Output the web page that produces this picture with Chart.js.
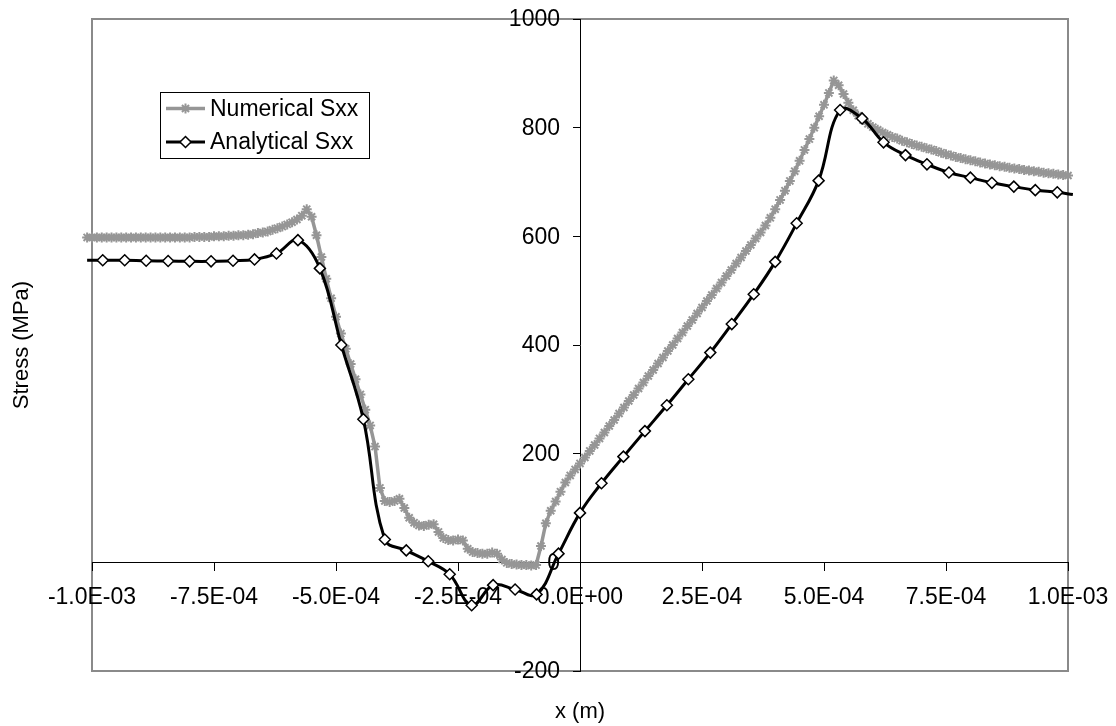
<!DOCTYPE html>
<html>
<head>
<meta charset="utf-8">
<script src="https://cdn.jsdelivr.net/npm/chart.js@4"></script>
<style>
  html, body { margin: 0; padding: 0; background: #fff; }
</style>
</head>
<body>
<canvas id="chart" width="1116" height="726"></canvas>
<script>
// Analytical Sxx: marker points (first/last entries only extend the line past the frame)
const anaX = [
  -1.01e-3, -9.78e-4, -9.33e-4, -8.89e-4, -8.44e-4, -8.0e-4, -7.56e-4, -7.11e-4, -6.67e-4,
  -6.22e-4, -5.78e-4, -5.33e-4, -4.89e-4, -4.44e-4, -4.0e-4, -3.56e-4, -3.11e-4, -2.67e-4,
  -2.22e-4, -1.78e-4, -1.33e-4, -8.9e-5, -4.4e-5, 0, 4.4e-5, 8.9e-5, 1.33e-4, 1.78e-4,
  2.22e-4, 2.67e-4, 3.11e-4, 3.56e-4, 4.0e-4, 4.44e-4, 4.89e-4, 5.33e-4, 5.78e-4, 6.22e-4,
  6.67e-4, 7.11e-4, 7.56e-4, 8.0e-4, 8.44e-4, 8.89e-4, 9.33e-4, 9.78e-4, 1.01e-3,
];
const anaY = [
  556, 556, 556, 555, 554.5, 554, 554, 555, 557.5, 568.5, 593, 541, 400, 263.5, 42, 22, 2,
  -22, -79, -42, -50, -59, 16, 91, 145.5, 194.5, 241.5, 289, 337, 386, 438.5, 493.5, 553,
  624, 702.5, 832.5, 817, 773, 749.5, 732.5, 717.5, 708, 698.5, 691.5, 685, 681, 677,
];

// Numerical Sxx: sampled every 10 micrometres from -1.01E-03 m
const numStart = -1.01e-3;
const numStep = 1e-5;
const numY = [
  598, 598, 598, 598, 598, 598, 598, 598, 598, 598, 598, 598, 598, 598, 598, 598, 598, 598,
  598, 598, 598, 598,
  599, 599, 599, 599, 600, 600, 600, 601, 601, 602, 602, 603, 604, 606, 607, 609, 612, 615,
  618, 622, 626, 631, 638,
  650, 636, 602, 562, 522, 486, 452, 421, 393, 365, 337, 309, 281, 252, 213, 137,
  113, 111, 113, 117, 100, 82, 73, 68, 67, 69, 70, 56, 45, 41, 40, 42, 40, 25, 19, 17,
  16, 16, 18, 16, 5, -1, -3, -4, -5, -5, -6, -5,
  30, 72, 95, 112, 130, 147, 160, 171, 182,
  193, 205, 216, 228, 239, 251, 262, 274, 285, 297, 308, 320, 331, 343, 354, 366, 377, 389,
  400, 412, 423, 435, 446, 458, 469, 481, 492, 504, 515, 527, 538, 550, 561, 573, 584, 596, 607,
  620, 634, 650, 667, 684, 702, 720, 739, 759, 779, 800, 821, 842, 864, 887,
  878, 862, 846, 832, 822, 814, 807, 801, 796, 791, 787, 783, 780, 776, 773, 770, 767, 765,
  762, 760, 757, 754, 751, 749, 746, 744, 742, 740, 738, 736, 734, 732, 731, 729, 728, 726,
  725, 724, 722, 721, 720, 719, 717, 716, 715, 714, 713, 712, 711,
];

const xTitle = 'x (m)';
const yTitle = 'Stress (MPa)';
const FONT = '"Liberation Sans", Arial, sans-serif';

const numData = numY.map((y, i) => ({ x: numStart + i * numStep, y }));
const anaData = anaY.map((y, i) => ({ x: anaX[i], y }));
const lastAna = anaData.length - 1;

// 1.0E-03 style labels
function sci(v) {
  const [m, e] = Number(v).toExponential(1).split('e');
  const n = Math.abs(+e);
  return m.replace('-0.0', '0.0') + 'E' + (+e < 0 ? '-' : '+') + String(n).padStart(2, '0');
}

const plotFrame = {
  id: 'plotFrame',
  beforeDraw(chart) {
    const { ctx, chartArea: a } = chart;
    ctx.save();
    ctx.fillStyle = '#fff';
    ctx.fillRect(0, 0, chart.width, chart.height);
    ctx.strokeStyle = '#8a8a8a';
    ctx.lineWidth = 2;
    ctx.strokeRect(a.left, a.top, a.right - a.left, a.bottom - a.top);
    ctx.restore();
  },
};

// y tick labels sit left of the centred axis, clear of the tick marks
const yLabels = {
  id: 'yLabels',
  beforeDatasetsDraw(chart) {
    const { ctx, scales } = chart;
    const x0 = scales.x.getPixelForValue(0) - 7 - 13;
    ctx.save();
    ctx.fillStyle = '#000';
    ctx.font = '23px ' + FONT;
    ctx.textAlign = 'right';
    ctx.textBaseline = 'middle';
    scales.y.ticks.forEach((t) => {
      ctx.fillText(String(t.value), x0, scales.y.getPixelForValue(t.value) + 1);
    });
    ctx.restore();
  },
};

const axisTitles = {
  id: 'axisTitles',
  afterDraw(chart) {
    const { ctx, chartArea: a } = chart;
    ctx.save();
    ctx.fillStyle = '#000';
    ctx.font = '22px ' + FONT;
    ctx.textAlign = 'center';
    ctx.textBaseline = 'middle';
    ctx.fillText(xTitle, (a.left + a.right) / 2, 712);
    ctx.translate(22, (a.top + a.bottom) / 2);
    ctx.rotate(-Math.PI / 2);
    ctx.fillText(yTitle, 0, 0);
    ctx.restore();
  },
};

const legendBox = {
  id: 'legendBox',
  afterDraw(chart) {
    const { ctx, chartArea: a } = chart;
    const left = a.left + 68, top = a.top + 73, w = 209, h = 66;
    ctx.save();
    ctx.fillStyle = '#fff';
    ctx.fillRect(left, top, w, h);
    ctx.strokeStyle = '#000';
    ctx.lineWidth = 1;
    ctx.strokeRect(left + 0.5, top + 0.5, w, h);
    chart.data.datasets.forEach((ds, i) => {
      const y = top + 16.5 + i * 33.5;
      ctx.strokeStyle = ds.borderColor;
      ctx.lineWidth = ds.borderWidth;
      ctx.beginPath();
      ctx.moveTo(left + 6, y);
      ctx.lineTo(left + 45, y);
      ctx.stroke();
      ctx.fillStyle = ds.pointBackgroundColor;
      ctx.strokeStyle = ds.pointBorderColor;
      ctx.lineWidth = ds.pointBorderWidth;
      Chart.helpers.drawPoint(ctx, {
        pointStyle: ds.pointStyle, rotation: 0,
        radius: ds.legendRadius, borderWidth: ds.pointBorderWidth,
      }, left + 25.5, y);
      ctx.fillStyle = '#000';
      ctx.font = '23px ' + FONT;
      ctx.textAlign = 'left';
      ctx.textBaseline = 'middle';
      ctx.fillText(ds.label, left + 50, y + 1);
    });
    ctx.restore();
  },
};

new Chart(document.getElementById('chart'), {
  type: 'line',
  data: {
    datasets: [
      {
        label: 'Numerical Sxx',
        data: numData,
        borderColor: '#969696',
        borderWidth: 3.5,
        pointStyle: 'star',
        pointRadius: 5,
        legendRadius: 5,
        pointBorderWidth: 2,
        pointBorderColor: '#969696',
        pointBackgroundColor: '#969696',
        tension: 0,
        clip: false,
        order: 2,
      },
      {
        label: 'Analytical Sxx',
        data: anaData,
        borderColor: '#000',
        borderWidth: 3,
        pointStyle: 'rectRot',
        pointRadius: (c) => (c.dataIndex === 0 || c.dataIndex === lastAna ? 0 : 5.5),
        legendRadius: 5.5,
        pointBorderWidth: 1.5,
        pointBorderColor: '#000',
        pointBackgroundColor: '#fff',
        tension: 0.4,
        clip: false,
        order: 1,
      },
    ],
  },
  options: {
    responsive: false,
    animation: false,
    events: [],
    layout: { padding: { left: 92, top: 19, right: 48, bottom: 55 } },
    plugins: { legend: { display: false }, tooltip: { enabled: false } },
    scales: {
      x: {
        type: 'linear',
        min: -1e-3,
        max: 1e-3,
        position: { y: 0 },
        border: { color: '#000', width: 1 },
        grid: { drawOnChartArea: false, drawTicks: true, tickLength: 8, tickColor: '#000' },
        // end labels may hang past the frame; keep them from shrinking the plot
        afterFit(scale) {
          scale.paddingLeft = 0;
          scale.paddingRight = 0;
        },
        ticks: {
          stepSize: 2.5e-4,
          autoSkip: false,
          maxRotation: 0,
          padding: 14,
          color: '#000',
          font: { family: FONT, size: 23 },
          callback: (v) => sci(v),
        },
      },
      y: {
        type: 'linear',
        min: -200,
        max: 1000,
        position: { x: 0 },
        border: { color: '#000', width: 1 },
        grid: { drawOnChartArea: false, drawTicks: true, tickLength: 7, tickColor: '#000' },
        ticks: { stepSize: 200, display: false },
      },
    },
  },
  plugins: [plotFrame, yLabels, axisTitles, legendBox],
});
</script>
</body>
</html>
